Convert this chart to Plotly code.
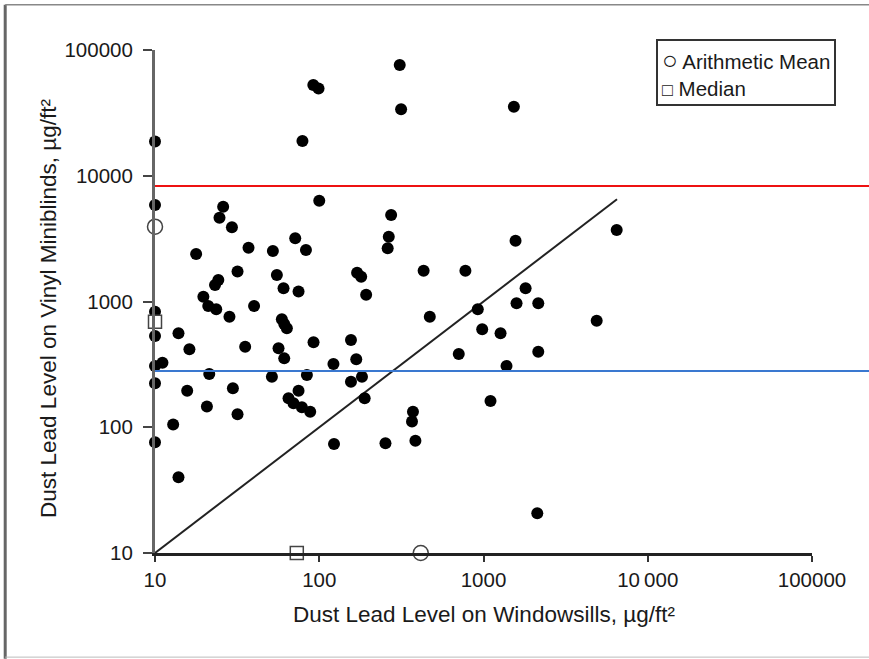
import plotly.graph_objects as go

# Data: windowsill dust lead (x) vs vinyl miniblind dust lead (y), µg/ft²
windowsill = [10, 92, 99, 79, 10, 100, 26, 24.7, 29.4, 17.8, 37.1, 52.2, 71.4, 83, 31.8, 23.2, 24.3,
              55.2, 60.6, 74.8, 170, 180, 193, 19.7, 10, 21.1, 23.6, 28.4, 40.1, 59.2, 61.2, 63.5,
              10, 13.9, 16.2, 35.4, 56.5, 61.2, 92.3, 156, 168, 122, 11.1, 10, 21.4, 51.5, 84.1,
              182, 156, 10, 15.7, 29.8, 74.8, 65, 69.7, 78.4, 88.1, 189, 20.7, 31.8, 12.9, 10,
              123, 13.9, 309, 315, 1531, 274, 265, 261, 1567, 6470, 432, 776, 1804, 1589, 2155,
              471, 923, 982, 1270, 4887, 707, 2155, 1381, 1103, 372, 367, 385, 253, 2125]
miniblinds = [18700, 52700, 49400, 18900, 5850, 6340, 5675, 4640, 3890, 2390, 2680, 2520, 3180, 2570,
              1730, 1350, 1480, 1625, 1275, 1200, 1690, 1575, 1130, 1090, 830, 920, 867, 757, 921,
              721, 662, 612, 532, 558, 417, 437, 424, 353, 474, 494, 347, 318, 326, 307, 265, 252,
              260, 252, 230, 224, 195, 204, 195, 170, 155, 144, 133, 170, 146, 127, 105, 76, 73.6,
              40, 76000, 33750, 35400, 4875, 3275, 2650, 3045, 3700, 1758, 1758, 1274, 968, 968,
              757, 867, 601, 558, 704, 382, 399, 307, 162, 133, 111, 78, 74.5, 20.7]

mean_windowsill, mean_miniblinds = 415, 3935
median_windowsill, median_miniblinds = 73, 690
identity_line = [10, 6500]
red_level = 8300
blue_level = 280

tick_vals = [10, 100, 1000, 10000, 100000]
x_tick_text = ["10", "100", "1000", "10\u2009000", "100000"]
y_tick_text = ["10", "100", "1000", "10000", "100000"]

legend_labels = ["Arithmetic Mean", "Median"]
legend_glyphs = ["\u25cb", "\u25a1"]
legend_glyph_px = [26, 18]

FONT = "Liberation Sans, Arial, Helvetica, sans-serif"
INK = "#1a1a1a"

fig = go.Figure()

fig.add_trace(go.Scatter(x=identity_line, y=identity_line, mode="lines",
                         line=dict(color="#222", width=2), showlegend=False, hoverinfo="skip"))

fig.add_trace(go.Scatter(x=windowsill, y=miniblinds, mode="markers",
                         marker=dict(color="black", size=12), showlegend=False, cliponaxis=False))

fig.add_trace(go.Scatter(x=[10, mean_windowsill], y=[mean_miniblinds, 10], mode="markers",
                         name=legend_labels[0], cliponaxis=False, showlegend=False,
                         marker=dict(symbol="circle", size=15, color="white",
                                     line=dict(color="#444", width=1.5))))
fig.add_trace(go.Scatter(x=[10, median_windowsill], y=[median_miniblinds, 10], mode="markers",
                         name=legend_labels[1], cliponaxis=False, showlegend=False,
                         marker=dict(symbol="square", size=13, color="white",
                                     line=dict(color="#444", width=1.5))))

shapes = [
    dict(type="line", xref="paper", yref="y", x0=0, x1=1.09, y0=red_level, y1=red_level,
         line=dict(color="#ee1111", width=2)),
    dict(type="line", xref="paper", yref="y", x0=0, x1=1.09, y0=blue_level, y1=blue_level,
         line=dict(color="#3a78d0", width=2)),
    # scanned-page frame
    dict(type="line", xref="paper", yref="paper", x0=-0.228, x1=-0.228, y0=1.09, y1=-0.21,
         line=dict(color="#666", width=3)),
    dict(type="line", xref="paper", yref="paper", x0=-0.228, x1=1.09, y0=1.09, y1=1.09,
         line=dict(color="#888", width=1.5)),
    dict(type="line", xref="paper", yref="paper", x0=-0.228, x1=1.09, y0=-0.207, y1=-0.207,
         line=dict(color="#bbb", width=1)),
]

legend_text = "<br>".join(
    f"<span style='font-size:{s}px'>{g}</span> {t}"
    for g, s, t in zip(legend_glyphs, legend_glyph_px, legend_labels))

annotations = [
    dict(text="Dust Lead Level on Windowsills, \u00b5g/ft\u00b2", xref="paper", yref="paper",
         x=0.5, y=-0.123, showarrow=False, xanchor="center", yanchor="middle",
         font=dict(family=FONT, size=22.5, color=INK)),
    dict(text="Dust Lead Level on Vinyl Miniblinds, \u00b5g/ft\u00b2", xref="paper", yref="paper",
         x=-0.163, y=0.487, showarrow=False, xanchor="center", yanchor="middle", textangle=-90,
         font=dict(family=FONT, size=22.5, color=INK)),
    dict(text=legend_text, xref="paper", yref="paper", x=0.7626, y=1.022,
         xanchor="left", yanchor="top", showarrow=False, align="left",
         bgcolor="white", bordercolor="#333", borderwidth=2, borderpad=4,
         font=dict(family=FONT, size=20.5, color=INK)),
]

fig.update_layout(
    width=869, height=659,
    margin=dict(l=155, r=57, t=50, b=106),
    paper_bgcolor="white", plot_bgcolor="white",
    font=dict(family=FONT, size=20, color=INK),
    showlegend=False,
    shapes=shapes,
    annotations=annotations,
)

fig.update_xaxes(type="log", range=[1, 5], showgrid=False, zeroline=False,
                 showline=True, linecolor="#222", linewidth=3,
                 ticks="outside", ticklen=6, tickwidth=2, tickcolor="#333",
                 tickvals=tick_vals, ticktext=x_tick_text,
                 tickfont=dict(family=FONT, size=20.5, color=INK))
fig.update_yaxes(type="log", range=[1, 5], showgrid=False, zeroline=False,
                 showline=True, linecolor="#666", linewidth=3,
                 ticks="outside", ticklen=9, tickwidth=2, tickcolor="#444",
                 ticklabelstandoff=6,
                 tickvals=tick_vals, ticktext=y_tick_text,
                 tickfont=dict(family=FONT, size=20.5, color=INK))

fig.write_html("out.html", config={"displayModeBar": False},
               post_script="document.body.style.margin='0';")
